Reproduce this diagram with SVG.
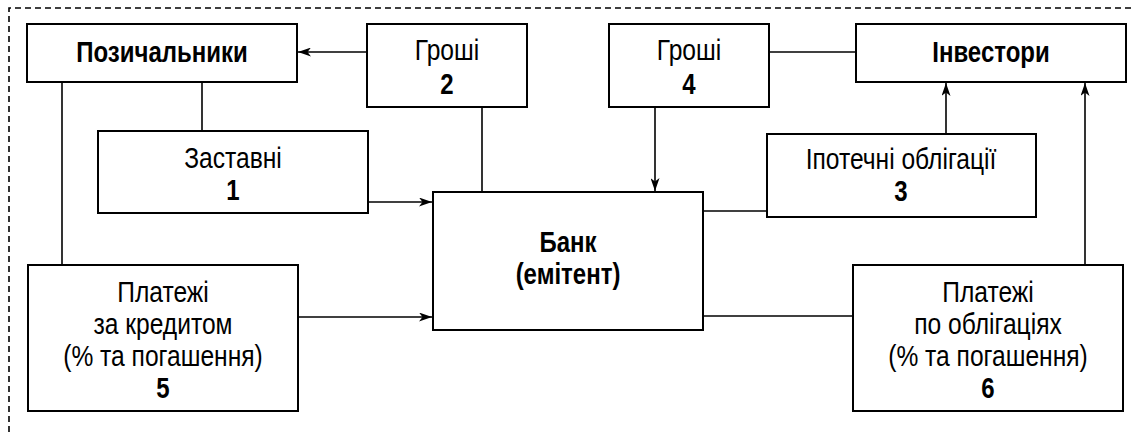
<svg xmlns="http://www.w3.org/2000/svg" width="1135" height="432" viewBox="0 0 1135 432">
<style>
.box{fill:#fff;stroke:#000;stroke-width:2}
.ln{fill:none;stroke:#000;stroke-width:1.6}
.arr{marker-end:url(#ah)}
.t{font-family:"Liberation Sans",Arial,sans-serif;font-size:30px;text-anchor:middle;fill:#000}
.b{font-weight:bold}
.frame{fill:none;stroke:#000;stroke-width:1.6;stroke-dasharray:6 4}
</style>
<defs>
<marker id="ah" markerUnits="userSpaceOnUse" markerWidth="13" markerHeight="9" refX="13" refY="4.5" orient="auto">
<path d="M0,0 L13,4.5 L0,9 L3.5,4.5 z" fill="#000"/>
</marker>
</defs>
<rect width="1135" height="432" fill="#fff"/>
<path class="frame" d="M9,432 V8 H1135"/>
<g id="connectors">
<line class="ln arr" x1="367" y1="52" x2="298" y2="52"/>
<line class="ln" x1="482" y1="107" x2="482" y2="192"/>
<line class="ln" x1="202" y1="82" x2="202" y2="131"/>
<line class="ln arr" x1="368" y1="202" x2="432" y2="202"/>
<line class="ln" x1="62" y1="82" x2="62" y2="265"/>
<line class="ln arr" x1="298" y1="317" x2="432" y2="317"/>
<line class="ln arr" x1="655" y1="107" x2="655" y2="191"/>
<line class="ln" x1="769" y1="52" x2="856" y2="52"/>
<line class="ln" x1="703" y1="211" x2="767" y2="211"/>
<line class="ln arr" x1="946" y1="134" x2="946" y2="83"/>
<line class="ln" x1="703" y1="316" x2="853" y2="316"/>
<line class="ln arr" x1="1085" y1="265" x2="1085" y2="83"/>
</g>
<g id="borrowers">
<rect class="box" x="27" y="24" width="270" height="58"/>
<text class="t b" transform="translate(162,0) scale(0.8,1)" x="0" y="62">Позичальники</text>
</g>
<g id="money2">
<rect class="box" x="367" y="24" width="160" height="83"/>
<text class="t" transform="translate(447,0) scale(0.82,1)" x="0" y="60">Гроші</text>
<text class="t b" transform="translate(447,0) scale(0.8,1)" x="0" y="94">2</text>
</g>
<g id="pledges1">
<rect class="box" x="98" y="131" width="270" height="82"/>
<text class="t" transform="translate(233,0) scale(0.82,1)" x="0" y="168">Заставні</text>
<text class="t b" transform="translate(233,0) scale(0.8,1)" x="0" y="200">1</text>
</g>
<g id="money4">
<rect class="box" x="609" y="24" width="160" height="83"/>
<text class="t" transform="translate(689,0) scale(0.82,1)" x="0" y="60">Гроші</text>
<text class="t b" transform="translate(689,0) scale(0.8,1)" x="0" y="94">4</text>
</g>
<g id="investors">
<rect class="box" x="856" y="24" width="270" height="58"/>
<text class="t b" transform="translate(991,0) scale(0.8,1)" x="0" y="62">Інвестори</text>
</g>
<g id="bonds3">
<rect class="box" x="767" y="134" width="269" height="83"/>
<text class="t" transform="translate(901,0) scale(0.82,1)" x="0" y="169">Іпотечні облігації</text>
<text class="t b" transform="translate(901,0) scale(0.8,1)" x="0" y="201">3</text>
</g>
<g id="bank">
<rect class="box" x="433" y="192" width="270" height="138"/>
<text class="t b" transform="translate(568,0) scale(0.8,1)" x="0" y="252">Банк</text>
<text class="t b" transform="translate(568,0) scale(0.8,1)" x="0" y="284">(емітент)</text>
</g>
<g id="payments5">
<rect class="box" x="28" y="265" width="270" height="146"/>
<text class="t" transform="translate(163,0) scale(0.82,1)" x="0" y="302">Платежі</text>
<text class="t" transform="translate(163,0) scale(0.82,1)" x="0" y="334">за кредитом</text>
<text class="t" transform="translate(163,0) scale(0.82,1)" x="0" y="366">(% та погашення)</text>
<text class="t b" transform="translate(163,0) scale(0.8,1)" x="0" y="398">5</text>
</g>
<g id="payments6">
<rect class="box" x="853" y="265" width="270" height="146"/>
<text class="t" transform="translate(988,0) scale(0.82,1)" x="0" y="302">Платежі</text>
<text class="t" transform="translate(988,0) scale(0.82,1)" x="0" y="334">по облігаціях</text>
<text class="t" transform="translate(988,0) scale(0.82,1)" x="0" y="366">(% та погашення)</text>
<text class="t b" transform="translate(988,0) scale(0.8,1)" x="0" y="398">6</text>
</g>
</svg>
